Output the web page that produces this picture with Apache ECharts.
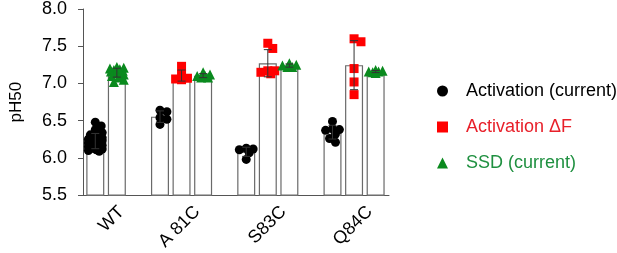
<!DOCTYPE html>
<html>
<head>
<meta charset="utf-8">
<script src="https://cdn.jsdelivr.net/npm/echarts@6/dist/echarts.min.js"></script>
<style>
html, body { margin: 0; padding: 0; background: #fff; }
#chart { width: 617px; height: 253px; }
</style>
</head>
<body>
<div id="chart"></div>
<script>
/*
 * pH50 per construct
 */
var categories = ['WT', 'A 81C', 'S83C', 'Q84C'];
var seriesNames = ['Activation (current)', 'Activation \u0394F', 'SSD (current)'];

var activation = [
    [6.48, 6.43, 6.38, 6.34, 6.31, 6.29, 6.27, 6.26, 6.25, 6.24, 6.23, 6.22, 6.21,
     6.20, 6.19, 6.18, 6.17, 6.16, 6.15, 6.14, 6.13, 6.12, 6.11, 6.10, 6.09],
    [6.64, 6.62, 6.54, 6.52, 6.45],
    [6.13, 6.12, 6.11, 6.07, 5.98],
    [6.49, 6.39, 6.38, 6.37, 6.32, 6.26, 6.21]
];
var activationDF = [
    [],
    [7.23, 7.12, 7.07, 7.06, 7.05],
    [7.54, 7.47, 7.17, 7.17, 7.15, 7.13],
    [7.60, 7.56, 7.20, 7.02, 6.85]
];
var ssd = [
    [7.22, 7.21, 7.20, 7.19, 7.18, 7.18, 7.17, 7.16, 7.15, 7.14, 7.12, 7.10, 7.08, 7.05, 7.02],
    [7.15, 7.12, 7.10, 7.08, 7.08, 7.10],
    [7.27, 7.25, 7.24, 7.22, 7.22],
    [7.18, 7.17, 7.16, 7.16, 7.15, 7.14]
];

var yMin = 5.5, yMax = 8.0, yStep = 0.5;
var colors = ['#000000', '#ff0000', '#0a8a1e'];
var textColors = ['#000000', '#e8202a', '#1f9040'];
var symbols = ['circle', 'rect', 'triangle'];

// grid geometry (px)
var gridLeft = 79, gridTop = 5, gridW = 310, gridH = 196;
var xMin = -0.57, xMax = 13.62;
var pxX = gridW / (xMax - xMin);
var pxY = gridH / (yMax - yMin);

function mean(a) {
    var s = 0;
    for (var i = 0; i < a.length; i++) s += a[i];
    return s / a.length;
}
function sd(a) {
    var m = mean(a), s = 0;
    for (var i = 0; i < a.length; i++) s += (a[i] - m) * (a[i] - m);
    return Math.sqrt(s / (a.length - 1));
}

// spread overlapping points sideways
function swarm(values, slot, minDist, maxOff) {
    var placed = [];
    var order = values.map(function (v, i) { return i; })
        .sort(function (a, b) { return values[b] - values[a]; });
    var out = [];
    order.forEach(function (i) {
        var y = values[i] * pxY;
        var best = 0, bestD = -1;
        for (var k = 0; k <= 2 * maxOff; k++) {
            var off = (k % 2 ? 1 : -1) * Math.ceil(k / 2);
            var d = Infinity;
            placed.forEach(function (p) {
                d = Math.min(d, Math.sqrt((p[0] - off) * (p[0] - off) + (p[1] - y) * (p[1] - y)));
            });
            if (d >= minDist) { best = off; bestD = d; break; }
            if (d > bestD) { bestD = d; best = off; }
        }
        placed.push([best, y]);
        out.push([slot + best / pxX, values[i]]);
    });
    return out;
}

// slots: one per column, one empty slot between groups
var groups = [activation, activationDF, ssd];
var barData = [], errData = [], pointData = [[], [], []];
var labelPos = [];
var slot = 0;
for (var g = 0; g < categories.length; g++) {
    var first = slot;
    for (var s = 0; s < groups.length; s++) {
        var vals = groups[s][g];
        if (!vals.length) continue;
        barData.push([slot, mean(vals)]);
        errData.push([slot, mean(vals), sd(vals)]);
        pointData[s] = pointData[s].concat(swarm(vals, slot, 7, 7));
        slot++;
    }
    labelPos.push((first + slot - 1) / 2 + 0.72);
    slot++;
}

var chart = echarts.init(document.getElementById('chart'));
var option = {
    animation: false,
    textStyle: { fontFamily: 'Liberation Sans' },
    grid: { left: gridLeft, top: gridTop, width: gridW, height: gridH, containLabel: false },
    legend: {
        orient: 'vertical',
        left: 432,
        top: 76,
        itemWidth: 11,
        itemHeight: 11,
        itemGap: 16,
        selectedMode: false,
        textStyle: { fontSize: 18, lineHeight: 20, padding: [0, 0, 0, 13] },
        data: seriesNames.map(function (n, i) {
            return { name: n, icon: symbols[i], itemStyle: { color: colors[i] }, textStyle: { color: textColors[i] } };
        })
    },
    xAxis: {
        type: 'value',
        min: xMin,
        max: xMax,
        splitLine: { show: false },
        axisLine: { show: true, onZero: false, lineStyle: { color: '#555', width: 1 } },
        axisTick: { show: false },
        axisLabel: {
            customValues: labelPos,
            rotate: 45,
            margin: 14,
            fontSize: 18,
            color: '#000',
            formatter: function (v) {
                for (var i = 0; i < labelPos.length; i++) {
                    if (Math.abs(labelPos[i] - v) < 1e-6) return categories[i];
                }
                return '';
            }
        }
    },
    yAxis: {
        type: 'value',
        min: yMin,
        max: yMax,
        interval: yStep,
        name: 'pH50',
        nameLocation: 'middle',
        nameGap: 58,
        nameTextStyle: { fontSize: 17, color: '#000' },
        splitLine: { show: false },
        axisLine: { show: true, onZero: false, lineStyle: { color: '#555', width: 1 } },
        axisTick: { show: true, length: 5, lineStyle: { color: '#555' } },
        axisLabel: {
            margin: 16,
            fontSize: 18,
            color: '#000',
            formatter: function (v) { return v.toFixed(1); }
        }
    },
    series: [{
        type: 'bar',
        data: barData,
        barWidth: 18,
        silent: true,
        z: 1,
        itemStyle: { color: '#fff', borderColor: '#6a6a6a', borderWidth: 1.2 }
    }].concat(seriesNames.map(function (n, i) {
        return {
            name: n,
            type: 'scatter',
            data: pointData[i],
            symbol: symbols[i],
            symbolSize: i === 2 ? 10 : 9,
            itemStyle: { color: colors[i], opacity: 1 },
            z: 3
        };
    })).concat([{
        type: 'custom',
        data: errData,
        silent: true,
        z: 4,
        renderItem: function (params, api) {
            var x = api.value(0), m = api.value(1), s = api.value(2);
            var top = api.coord([x, m + s]);
            var bot = api.coord([x, m - s]);
            var w = 4;
            var st = { stroke: '#333', lineWidth: 1 };
            return {
                type: 'group',
                children: [
                    { type: 'line', shape: { x1: top[0], y1: top[1], x2: bot[0], y2: bot[1] }, style: st },
                    { type: 'line', shape: { x1: top[0] - w, y1: top[1], x2: top[0] + w, y2: top[1] }, style: st },
                    { type: 'line', shape: { x1: bot[0] - w, y1: bot[1], x2: bot[0] + w, y2: bot[1] }, style: st }
                ]
            };
        }
    }])
};
chart.setOption(option);
</script>
</body>
</html>
